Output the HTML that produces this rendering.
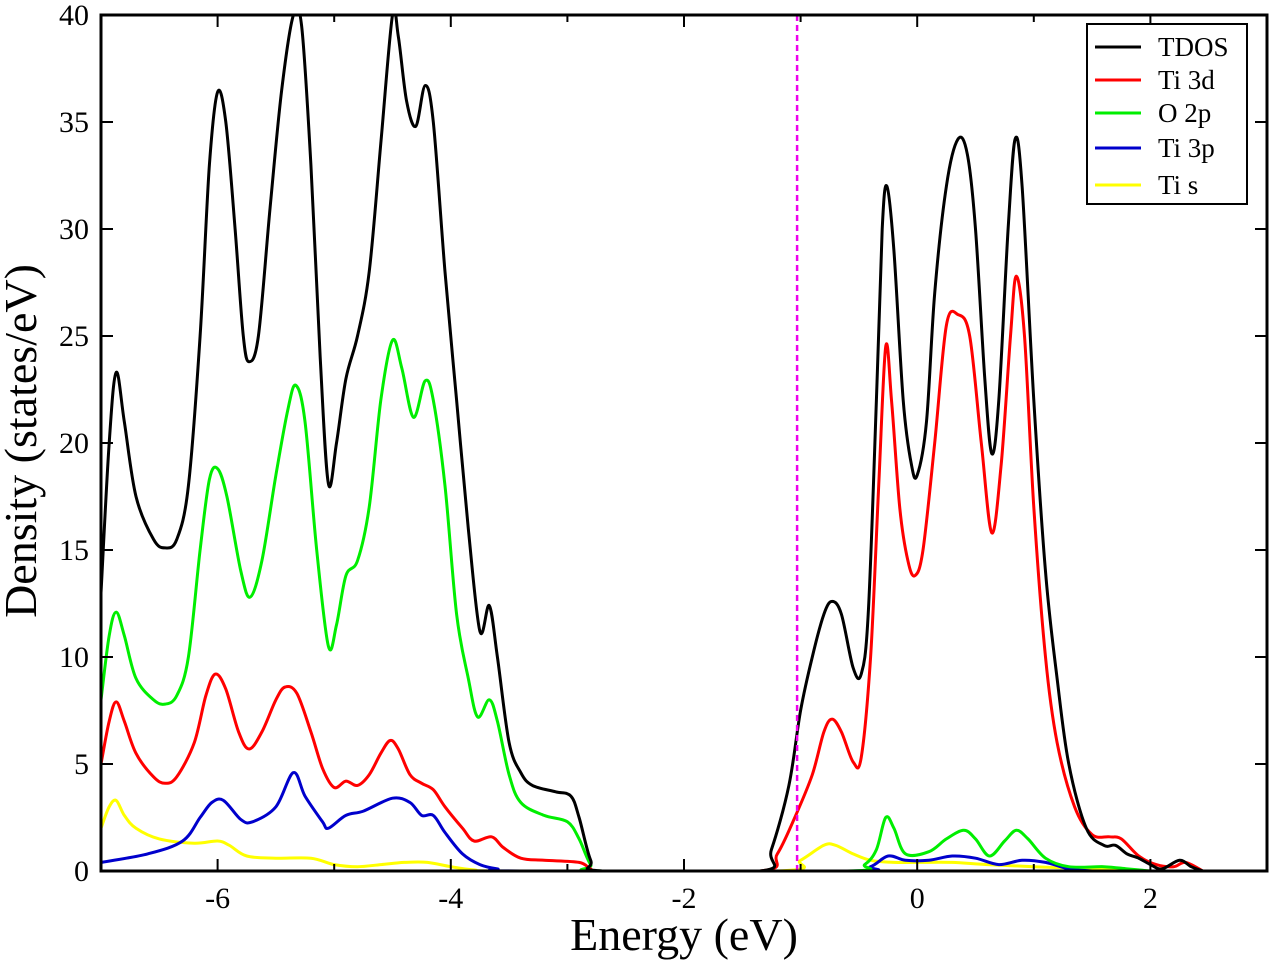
<!DOCTYPE html>
<html><head><meta charset="utf-8"><style>
body{margin:0;background:#fff;}
svg text{font-family:"Liberation Serif",serif;}
</style></head><body>
<svg id="chart" width="1270" height="963" viewBox="0 0 1270 963" xmlns="http://www.w3.org/2000/svg">
</svg>
<script>
const xTicks=[-6,-4,-2,0,2];
const xTickLabels=["-6","-4","-2","0","2"];
const xMinor=[-7,-5,-3,-1,1,3];
const yTicks=[0,5,10,15,20,25,30,35,40];
const yTickLabels=["0","5","10","15","20","25","30","35","40"];
const fermi=-1.03;
const seriesNames=["TDOS","Ti 3d","O 2p","Ti 3p","Ti s"];
const seriesColors=["#000000","#ff0000","#00ee00","#0000cc","#ffff00"];
const tdosX=[-7.0,-6.93,-6.87,-6.8,-6.7,-6.55,-6.45,-6.35,-6.25,-6.15,-6.07,-6.0,-5.93,-5.85,-5.78,-5.73,-5.65,-5.55,-5.45,-5.35,-5.28,-5.2,-5.12,-5.05,-4.98,-4.9,-4.8,-4.7,-4.6,-4.5,-4.45,-4.38,-4.3,-4.22,-4.15,-4.05,-3.95,-3.85,-3.75,-3.67,-3.6,-3.5,-3.4,-3.3,-3.1,-2.97,-2.9,-2.8,-2.7,-1.35,-1.25,-1.1,-1.0,-0.9,-0.8,-0.73,-0.65,-0.55,-0.48,-0.42,-0.35,-0.3,-0.26,-0.2,-0.12,-0.05,0.0,0.08,0.15,0.25,0.35,0.43,0.5,0.58,0.64,0.7,0.78,0.84,0.9,1.0,1.1,1.2,1.3,1.45,1.6,1.7,1.8,1.9,2.0,2.1,2.25,2.35,2.45];
const tdosY=[13,20,23.3,21,17.5,15.5,15.1,15.5,18,25,33,36.4,35,30,25,23.8,25,31,36.5,40,39.5,33,24,18.1,20,23,25,28,34,40,39,36,34.8,36.7,35,28,22,16,11.2,12.4,10,6,4.6,4,3.7,3.5,2.5,0.5,0,0,1,4,7.5,10,12,12.6,12,9.5,9.2,12,22,30,32,29,22,19,18.5,21,27,32,34.2,33.5,30,23,19.5,22,30,34.2,32,22,14,9,5,2,1.2,1.2,0.8,0.6,0.3,0.1,0.5,0.2,0];
const ti3dX=[-7.0,-6.93,-6.87,-6.8,-6.7,-6.55,-6.45,-6.35,-6.2,-6.1,-6.02,-5.93,-5.82,-5.73,-5.62,-5.5,-5.42,-5.32,-5.2,-5.1,-5.0,-4.9,-4.8,-4.7,-4.6,-4.52,-4.45,-4.35,-4.25,-4.15,-4.05,-3.9,-3.8,-3.65,-3.55,-3.4,-3.2,-2.9,-2.8,-2.7,-1.35,-1.2,-1.05,-0.9,-0.8,-0.73,-0.65,-0.55,-0.48,-0.4,-0.33,-0.27,-0.22,-0.15,-0.08,-0.02,0.05,0.15,0.25,0.35,0.45,0.55,0.64,0.72,0.8,0.85,0.92,1.0,1.1,1.2,1.35,1.5,1.65,1.75,1.9,2.05,2.2,2.3,2.45];
const ti3dY=[5,7,7.9,7,5.5,4.4,4.1,4.4,6,8.2,9.2,8.5,6.5,5.7,6.5,8,8.6,8.3,6.5,4.8,3.9,4.2,4.0,4.5,5.5,6.1,5.7,4.5,4.1,3.8,3,2,1.4,1.6,1.1,0.6,0.5,0.4,0.1,0,0,0.8,2.5,4.5,6.5,7.1,6.5,5.1,5.3,10,18,24.5,22,17,14.5,13.8,15,20,25.5,26,25,20,15.8,19,25,27.8,25,17,10,6,3,1.7,1.6,1.5,0.7,0.3,0.2,0.4,0];
const o2pX=[-7.0,-6.93,-6.87,-6.8,-6.7,-6.55,-6.45,-6.35,-6.25,-6.15,-6.07,-6.0,-5.92,-5.8,-5.72,-5.62,-5.5,-5.4,-5.33,-5.25,-5.15,-5.05,-4.98,-4.9,-4.8,-4.7,-4.6,-4.5,-4.42,-4.32,-4.22,-4.15,-4.05,-3.95,-3.85,-3.77,-3.67,-3.6,-3.5,-3.4,-3.2,-3.0,-2.9,-2.8,-2.7,-0.6,-0.45,-0.35,-0.27,-0.2,-0.1,0.1,0.25,0.4,0.5,0.62,0.75,0.85,0.95,1.1,1.3,1.6,1.8,2.0];
const o2pY=[8,11,12.1,11,9,8,7.8,8.2,10,15,18.3,18.8,17.5,14,12.8,14.5,18.5,21.5,22.7,21,15,10.5,11.5,13.8,14.5,17,22,24.8,23.5,21.2,22.9,22,18,12,9,7.2,8.0,7,4.5,3.2,2.6,2.3,1.5,0.3,0,0,0.3,1,2.5,2,0.8,0.9,1.5,1.9,1.5,0.7,1.4,1.9,1.5,0.6,0.2,0.2,0.1,0];
const ti3pX=[-7,-6.6,-6.3,-6.15,-6.05,-5.95,-5.8,-5.7,-5.5,-5.35,-5.25,-5.1,-5.05,-4.9,-4.75,-4.5,-4.35,-4.25,-4.15,-4.05,-3.9,-3.75,-3.6,-3.4,-0.6,-0.4,-0.25,-0.1,0.1,0.3,0.5,0.7,0.9,1.1,1.3,1.5];
const ti3pY=[0.4,0.8,1.4,2.5,3.2,3.3,2.4,2.3,3,4.6,3.5,2.3,2.0,2.6,2.8,3.4,3.2,2.6,2.6,1.8,0.8,0.3,0.1,0,0,0.2,0.7,0.5,0.5,0.7,0.6,0.3,0.5,0.4,0.1,0];
const tisX=[-7,-6.93,-6.87,-6.8,-6.7,-6.5,-6.2,-6.0,-5.9,-5.75,-5.5,-5.2,-5.0,-4.8,-4.6,-4.4,-4.2,-4.0,-3.8,-3.5,-1.2,-1.0,-0.8,-0.7,-0.55,-0.4,-0.2,0,0.3,0.6,1,1.5,2];
const tisY=[2,3,3.3,2.6,2,1.5,1.3,1.4,1.2,0.7,0.6,0.6,0.3,0.2,0.3,0.4,0.4,0.2,0.05,0,0,0.5,1.2,1.2,0.8,0.5,0.4,0.4,0.4,0.3,0.2,0.1,0];

const L=101,R=1267,T=15,B=871,xmin=-7,xmax=3,ymin=0,ymax=40;
const sx=v=>L+(v-xmin)/(xmax-xmin)*(R-L);
const sy=v=>B-(v-ymin)/(ymax-ymin)*(B-T);
const NS="http://www.w3.org/2000/svg";
const svg=document.getElementById('chart');
function mk(tag,attrs,parent){const e=document.createElementNS(NS,tag);for(const k in attrs)e.setAttribute(k,attrs[k]);(parent||svg).appendChild(e);return e;}
function smooth(P){
  let d='M'+P[0][0].toFixed(1)+','+P[0][1].toFixed(1);
  for(let i=0;i<P.length-1;i++){
    const p0=P[Math.max(0,i-1)],p1=P[i],p2=P[i+1],p3=P[Math.min(P.length-1,i+2)];
    const c1=[p1[0]+(p2[0]-p0[0])/6,p1[1]+(p2[1]-p0[1])/6];
    const c2=[p2[0]-(p3[0]-p1[0])/6,p2[1]-(p3[1]-p1[1])/6];
    d+=' C'+c1[0].toFixed(1)+','+c1[1].toFixed(1)+' '+c2[0].toFixed(1)+','+c2[1].toFixed(1)+' '+p2[0].toFixed(1)+','+p2[1].toFixed(1);
  }
  return d;
}
const defs=mk('defs',{});const cp=mk('clipPath',{id:'clip'},defs);mk('rect',{x:L,y:T,width:R-L,height:B-T},cp);
const xs=[tdosX,ti3dX,o2pX,ti3pX,tisX], ys=[tdosY,ti3dY,o2pY,ti3pY,tisY];
const names=['tdos-line','ti-3d-line','o-2p-line','ti-3p-line','ti-s-line'];
const g=mk('g',{'clip-path':'url(#clip)'});


for(let s=4;s>=0;s--){
  const P=xs[s].map((x,i)=>[sx(x),sy(ys[s][i])]);
  const p=mk('path',{d:smooth(P),fill:'none',stroke:seriesColors[s],'stroke-width':3,'stroke-linejoin':'round'},g);
  
  
}
const fl=mk('line',{x1:sx(fermi),x2:sx(fermi),y1:T,y2:B,stroke:'#ee00ee','stroke-width':2.5,'stroke-dasharray':'6,4'});


const fr=mk('rect',{x:L,y:T,width:R-L,height:B-T,fill:'none',stroke:'#000','stroke-width':3});


xTicks.forEach((v,i)=>{
  const t=mk('line',{x1:sx(v),x2:sx(v),y1:B,y2:B-12,stroke:'#000','stroke-width':2});
  
  
  mk('line',{x1:sx(v),x2:sx(v),y1:T,y2:T+12,stroke:'#000','stroke-width':2});
  const tx=mk('text',{x:sx(v),y:908,'text-anchor':'middle','font-size':30});
  tx.textContent=xTickLabels[i];
  
  
});
xMinor.forEach(v=>{
  mk('line',{x1:sx(v),x2:sx(v),y1:B,y2:B-7,stroke:'#000','stroke-width':2});
  mk('line',{x1:sx(v),x2:sx(v),y1:T,y2:T+7,stroke:'#000','stroke-width':2});
});
yTicks.forEach((v,i)=>{
  const t=mk('line',{x1:L,x2:L+12,y1:sy(v),y2:sy(v),stroke:'#000','stroke-width':2});
  
  
  mk('line',{x1:R,x2:R-12,y1:sy(v),y2:sy(v),stroke:'#000','stroke-width':2});
  const tx=mk('text',{x:89,y:sy(v)+10,'text-anchor':'end','font-size':30});
  tx.textContent=yTickLabels[i];
  
  
});
const xl=mk('text',{x:684,y:950,'text-anchor':'middle','font-size':46});
xl.textContent='Energy (eV)';


const yl=mk('text',{x:0,y:0,'text-anchor':'middle','font-size':46,transform:'translate(36,441) rotate(-90)'});
yl.textContent='Density (states/eV)';


const lg=mk('g',{});


mk('rect',{x:1087,y:24,width:160,height:180,fill:'#fff',stroke:'#000','stroke-width':2},lg);
const ly=[47,80,113,148,185];
seriesNames.forEach((n,i)=>{
  const e=mk('g',{},lg);
  
  
  mk('line',{x1:1095,x2:1141,y1:ly[i],y2:ly[i],stroke:seriesColors[i],'stroke-width':3},e);
  const t=mk('text',{x:1158,y:ly[i]+9,'font-size':27},e);
  t.textContent=n;
});
</script>
</body></html>
